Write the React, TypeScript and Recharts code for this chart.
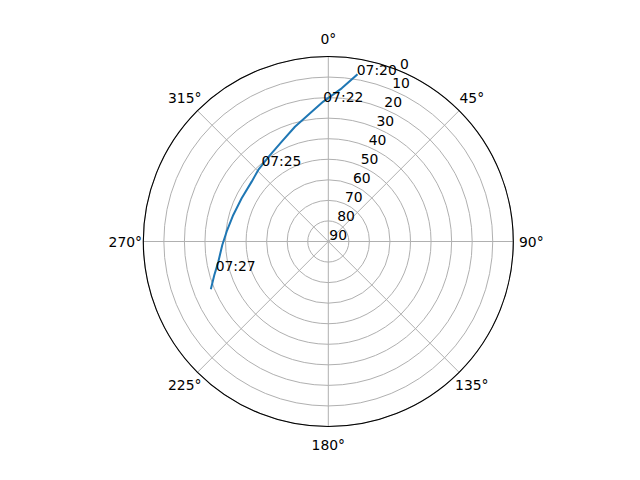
import React from "react";
import {
  RadarChart,
  PolarGrid,
  PolarAngleAxis,
  PolarRadiusAxis,
  Radar,
} from "recharts";

// satellite pass: azimuth (deg, clockwise from north) and elevation (deg)
const azimuth = [9.7, 5.0, 357.95, 351.9, 343.8, 335.0, 326.0, 318.5, 315.6, 308.0, 296.5, 285.6, 275.5, 268.1, 259.6, 255.5, 253.6, 248.25];
const elevation = [7.8, 15.2, 21.9, 27.0, 31.85, 36.4, 39.3, 40.9, 41.3, 42.7, 42.9, 42.0, 40.3, 38.4, 35.6, 33.4, 32.2, 28.6];
const timeLabels = ["07:20", "", "07:22", "", "", "", "", "07:25", "", "", "", "", "", "", "", "07:27", "", ""];

const angleTicks = [0, 45, 90, 135, 180, 225, 270, 315];
const radiusTicks = [0, 10, 20, 30, 40, 50, 60, 70, 80, 90];

const data = azimuth.map((az, i) => ({ az, el: elevation[i], label: timeLabels[i] }));

const FONT = "DejaVu Sans, sans-serif";

const AngleTick = (props: any) => {
  const { x, y, payload } = props;
  return (
    <text x={x} y={y} textAnchor="middle" dominantBaseline="central" fontSize={13.9} fontFamily={FONT} fill="#000">
      {payload.value}°
    </text>
  );
};

const RadiusTick = (props: any) => {
  const { x, y, payload } = props;
  return (
    <text x={x + 1} y={y - 2} textAnchor="start" fontSize={13.9} fontFamily={FONT} fill="#000">
      {payload.value}
    </text>
  );
};

// open polyline through the radar points, plus time annotations
const PassLine = (props: any) => {
  const pts = props.points || [];
  const d = pts.map((p: any, i: number) => `${i ? "L" : "M"}${p.x},${p.y}`).join(" ");
  return (
    <g>
      <path d={d} fill="none" stroke="#1f77b4" strokeWidth={2} strokeLinejoin="round" strokeLinecap="square" />
      {pts.map((p: any, i: number) =>
        p.payload && p.payload.label ? (
          <text key={i} x={p.x} y={p.y} fontSize={13.9} fontFamily={FONT} fill="#000">
            {p.payload.label}
          </text>
        ) : null
      )}
    </g>
  );
};

export default function App() {
  return (
    <div style={{ width: 624, height: 464 }}>
      <RadarChart
        width={624}
        height={464}
        data={data}
        cx={320.3}
        cy={233.5}
        outerRadius={185}
        margin={{ top: 0, right: 0, bottom: 0, left: 0 }}
      >
        <PolarGrid gridType="circle" stroke="#b0b0b0" strokeWidth={1} />
        <PolarAngleAxis
          dataKey="az"
          type="number"
          domain={[0, 360]}
          ticks={angleTicks}
          tickSize={18}
          tickLine={false}
          axisLineType="circle"
          axisLine={{ stroke: "#000", strokeWidth: 1.1 }}
          tick={<AngleTick />}
        />
        <PolarRadiusAxis
          angle={67.5}
          type="number"
          domain={[0, 90]}
          ticks={radiusTicks}
          reversed
          axisLine={false}
          tickLine={false}
          tick={<RadiusTick />}
        />
        <Radar dataKey="el" fill="none" stroke="#1f77b4" dot={false} isAnimationActive={false} shape={<PassLine />} />
      </RadarChart>
    </div>
  );
}
